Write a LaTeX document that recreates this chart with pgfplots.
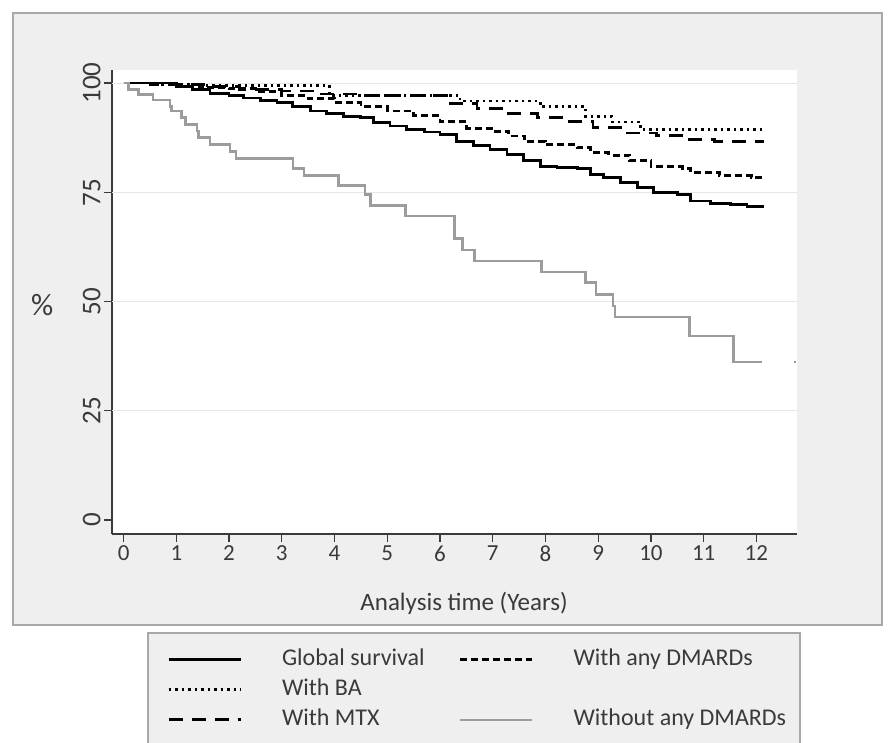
\documentclass[border=0pt]{standalone}
\usepackage{pgfplots}
\pgfplotsset{compat=1.18}
\usepackage{fontspec}
\setmainfont{Carlito}

\definecolor{bggray}{HTML}{EFEFEF}
\definecolor{framegray}{HTML}{A8A8A8}
\definecolor{axisgray}{HTML}{3A3A3A}
\definecolor{gridgray}{HTML}{E6E6E6}
\definecolor{curvegray}{HTML}{9C9C9C}

\begin{document}
\begin{tikzpicture}
\path[use as bounding box] (0pt,0pt) rectangle (889pt,743pt);
\fill[white] (0pt,0pt) rectangle (889pt,743pt);
% outer graph region and legend box
\filldraw[fill=bggray, draw=framegray, line width=1.5pt] (13pt,118pt) rectangle (882pt,730pt);
\filldraw[fill=bggray, draw=framegray, line width=1.5pt] (148pt,-20pt) rectangle (800pt,110pt);

\begin{axis}[
    at={(112pt,209pt)}, anchor=south west,
    width=685pt, height=464pt, scale only axis,
    xmin=-0.22, xmax=12.77, ymin=-3.2, ymax=103,
    axis x line*=bottom, axis y line*=left,
    axis line style={-, color=axisgray, line width=1.6pt},
    axis background/.style={fill=white},
    xtick={0,1,...,12}, ytick={0,25,50,75,100},
    tick align=outside, major tick length=8pt,
    tick style={color=axisgray, line width=1.2pt},
    extra y ticks={25,50,75,100}, extra y tick labels={},
    extra y tick style={grid=major, major grid style={color=gridgray, line width=1pt}, major tick length=0pt},
    /pgf/number format/assume math mode=true,
    xticklabel style={font=\fontsize{23}{25}\selectfont, color=axisgray},
    yticklabel style={font=\fontsize{27}{29}\selectfont, color=axisgray, rotate=90, anchor=south},
    xlabel={Analysis time (Years)},
    every axis x label/.style={at={(axis description cs:0.514,-0.149)}, anchor=center,
        font=\fontsize{25}{28}\selectfont, color=axisgray},
    ylabel={\%},
    every axis y label/.style={at={(axis description cs:-0.102,0.494)}, anchor=center,
        font=\fontsize{31}{33}\selectfont, color=axisgray},
    legend columns=2,
    legend cell align=left,
    legend image code/.code={\draw[#1] (0pt,0pt) -- (72pt,0pt);},
    legend style={draw=none, fill=none, inner sep=0pt,
        at={(axis description cs:0.0803,-0.246)}, anchor=north west,
        font=\fontsize{24}{26}\selectfont, text=axisgray,
        nodes={inner sep=1pt, text height=16pt, text depth=5pt},
        row sep=7pt,
        /tikz/every odd column/.append style={column sep=39pt},
        /tikz/every even column/.append style={column sep=33pt}},
]

% Global survival
\addplot[const plot, black, line width=2.8pt] coordinates {
(0,100) (0.9,100) (1.0,99.3) (1.3,98.5) (1.64,97.6) (2.0,97.2) (2.27,96.6)
(2.6,96.0) (2.91,95.5) (3.2,94.6) (3.54,93.6) (3.85,93.0) (4.17,92.4)
(4.49,92.1) (4.74,90.9) (5.05,90.2) (5.37,89.4) (5.7,88.8) (6.0,88.3)
(6.32,86.7) (6.64,85.7) (6.95,84.8) (7.27,83.7) (7.58,82.2) (7.9,81.0)
(8.22,80.6) (8.6,80.4) (8.85,79.1) (9.10,78.4) (9.42,77.2) (9.74,76.1)
(10.05,74.9) (10.5,74.5) (10.75,73.0) (11.13,72.5) (11.51,72.2) (11.82,71.7)
(12.14,71.7)
};
\addlegendentry{Global survival}

% With any DMARDs
\addplot[const plot, black, line width=2.8pt, dash pattern=on 7pt off 4pt] coordinates {
(0,100) (0.5,100) (1.0,99.3) (1.5,99.0) (2.0,98.8) (2.5,98.0) (3.0,97.2)
(3.5,96.5) (4.0,95.5) (4.5,94.7) (5.0,93.6) (5.5,92.6) (6.0,91.2) (6.5,89.7)
(7.0,89.0) (7.3,87.9) (7.6,86.7) (8.0,86.0) (8.6,85.2) (8.85,84.1) (9.2,83.5)
(9.6,82.2) (10.0,80.9) (10.6,80.5) (10.75,79.5) (11.3,78.9) (11.9,78.4)
(12.14,78.4)
};
\addlegendentry{With any DMARDs}

% With BA
\addplot[const plot, black, line width=2.8pt, dash pattern=on 2.5pt off 4pt] coordinates {
(0,100) (0.6,99.7) (1.5,99.5) (3.9,97.2) (6.38,95.9) (7.9,94.7) (8.76,92.4)
(9.26,91.1) (9.8,89.4) (12.14,89.4)
};
\addlegendentry{With BA}

\addlegendimage{empty legend}
\addlegendentry{}

% With MTX
\addplot[const plot, black, line width=2.8pt, dash pattern=on 14pt off 9pt] coordinates {
(0,100) (0.5,99.6) (1.6,99.2) (2.2,98.6) (3.0,98.2) (3.7,97.5) (4.5,97.1)
(6.13,95.4) (6.7,94.2) (7.2,93.0) (7.85,92.1) (8.4,91.2) (8.9,89.8)
(9.5,88.6) (10.1,88.0) (10.65,87.0) (11.2,86.7) (12.14,86.7)
};
\addlegendentry{With MTX}

% Without any DMARDs
\addplot[const plot, curvegray, line width=2.6pt] coordinates {
(0,100) (0.09,98.6) (0.28,97.4) (0.56,96.1) (0.88,94.7) (0.91,93.6)
(1.10,92.1) (1.17,90.5) (1.39,89.0) (1.42,87.5) (1.64,86.0) (2.02,84.4)
(2.13,82.7) (3.21,80.4) (3.42,78.9) (4.08,76.6) (4.58,74.5) (4.68,72.0)
(5.35,69.6) (6.27,64.4) (6.43,61.8) (6.65,59.3) (7.93,56.8) (8.76,54.3)
(8.96,51.6) (9.28,49.0) (9.32,46.5) (10.73,42.1) (11.56,36.2) (12.11,36.2)
};
\addlegendentry{Without any DMARDs}

\addplot[curvegray, line width=2pt, forget plot] coordinates {(12.72,36.2) (12.76,36.2)};

\end{axis}
\end{tikzpicture}
\end{document}
